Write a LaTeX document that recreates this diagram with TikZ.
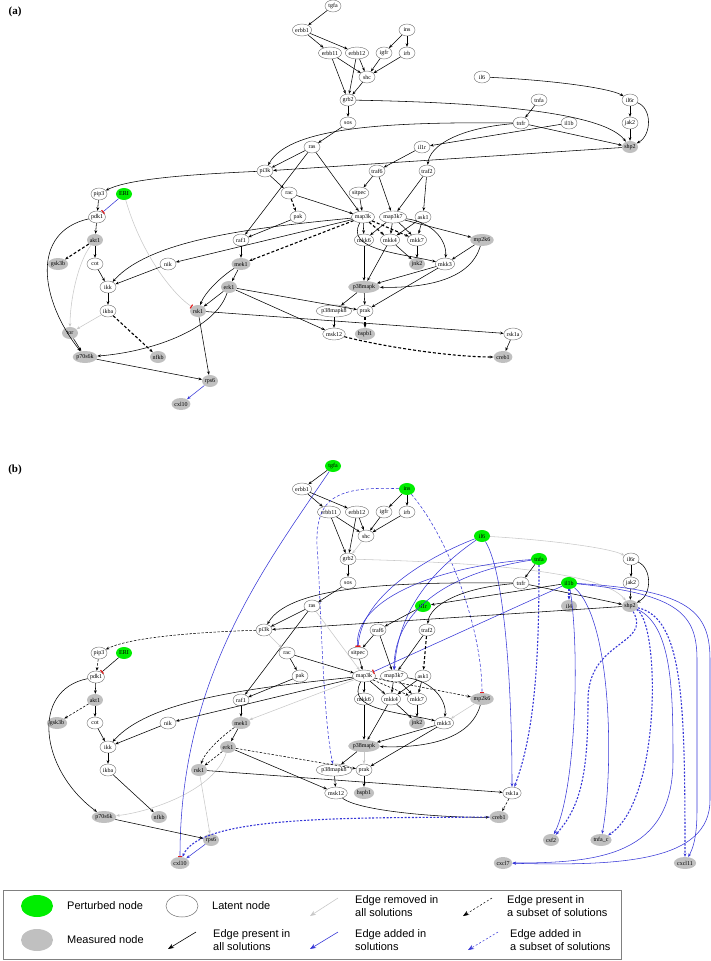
\documentclass[tikz,border=0pt]{standalone}
\usepackage{fontspec}
\setmainfont{Liberation Serif}
\newfontfamily\legfam{Liberation Sans}
\usetikzlibrary{shapes.geometric,arrows.meta}
\definecolor{pert}{RGB}{0,238,0}
\definecolor{meas}{RGB}{192,192,192}
\definecolor{latb}{RGB}{110,110,110}
\definecolor{remg}{RGB}{200,200,200}
\definecolor{addb}{RGB}{55,55,215}
\definecolor{teer}{RGB}{225,30,30}
\newcommand{\ndfont}{\fontsize{6}{6.5}\selectfont}
\tikzset{
 nd/.style={ellipse, inner sep=0pt, minimum height=12pt, minimum width=16pt, font=\ndfont},
 lat/.style={nd, draw=latb, line width=0.4pt, fill=white},
 mea/.style={nd, fill=meas},
 per/.style={nd, fill=pert},
 ed/.style={draw=black, line width=0.55pt, -{Stealth[length=3.6pt,width=2.8pt]}},
 edg/.style={ed, draw=remg},
 edd/.style={ed, line width=1.1pt, dash pattern=on 3pt off 2pt},
 eds/.style={ed, dash pattern=on 2.5pt off 1.5pt},
 edb/.style={ed, draw=addb},
 edbd/.style={edb, dash pattern=on 3pt off 2pt},
 edbt/.style={edb, line width=1.1pt, dash pattern=on 2pt off 1.6pt},
 tee/.style={-{Bar[width=4.5pt,line width=1.2pt,color=teer]}},
 legtxt/.style={anchor=west, align=left, inner sep=0pt, font=\legfam\fontsize{11}{13}\selectfont},
 legarr/.style={line width=0.6pt, -{Stealth[length=6pt,width=4.5pt]}},
 ttl/.style={font=\bfseries\fontsize{11}{12}\selectfont, inner sep=0pt}
}
\begin{document}
\begin{tikzpicture}[x=1pt,y=-1pt]
\useasboundingbox (0,0) rectangle (711,961);
\node[ttl] (ta) at (15,12) {(a)};
\node[ttl] (tb) at (15,470) {(b)};
% ================= PANEL A nodes
\node[lat] (a-tgfa) at (333,6) {tgfa};
\node[lat] (a-erbb1) at (302,30) {erbb1};
\node[lat] (a-ins) at (407,30) {ins};
\node[lat] (a-erbb11) at (330,53) {erbb11};
\node[lat] (a-erbb12) at (357,53) {erbb12};
\node[lat] (a-igfr) at (384,53) {igfr};
\node[lat] (a-irb) at (407,53) {irb};
\node[lat] (a-shc) at (367,77) {shc};
\node[lat] (a-il6) at (482,77) {il6};
\node[lat] (a-grb2) at (348,100) {grb2};
\node[lat] (a-tnfa) at (539,100) {tnfa};
\node[lat] (a-il6r) at (630,100) {il6r};
\node[lat] (a-sos) at (348,123) {sos};
\node[lat] (a-tnfr) at (521,123) {tnfr};
\node[lat] (a-il1b) at (569,123) {il1b};
\node[lat] (a-jak2) at (630,123) {jak2};
\node[lat] (a-ras) at (312,147) {ras};
\node[lat] (a-il1r) at (422,147) {il1r};
\node[mea] (a-shp2) at (630,147) {shp2};
\node[lat] (a-pi3k) at (265,171) {pi3k};
\node[lat] (a-traf6) at (377,171) {traf6};
\node[lat] (a-traf2) at (427,171) {traf2};
\node[lat] (a-pip3) at (99,194) {pip3};
\node[per] (a-ERI) at (124,194) {ERI};
\node[lat] (a-rac) at (289,193) {rac};
\node[lat] (a-sitpec) at (359,193) {sitpec};
\node[lat] (a-pdk1) at (97,217) {pdk1};
\node[lat] (a-pak) at (298,217) {pak};
\node[lat] (a-map3k) at (363,217) {map3k};
\node[lat] (a-map3k7) at (393,217) {map3k7};
\node[lat] (a-ask1) at (423,217) {ask1};
\node[mea] (a-akt1) at (95,240) {akt1};
\node[lat] (a-raf1) at (241,240) {raf1};
\node[lat] (a-mkk6) at (364,240) {mkk6};
\node[lat] (a-mkk4) at (390,240) {mkk4};
\node[lat] (a-mkk7) at (417,240) {mkk7};
\node[mea] (a-mp2k6) at (482,240) {mp2k6};
\node[mea] (a-gsk3b) at (58,264) {gsk3b};
\node[lat] (a-cot) at (95,264) {cot};
\node[lat] (a-nik) at (168,264) {nik};
\node[mea] (a-mek1) at (241,264) {mek1};
\node[mea] (a-jnk2) at (417,264) {jnk2};
\node[lat] (a-mkk3) at (445,264) {mkk3};
\node[lat] (a-ikk) at (108,287) {ikk};
\node[mea] (a-erk1) at (229,287) {erk1};
\node[mea] (a-p38mapk) at (364,287) {p38mapk};
\node[lat] (a-ikba) at (108,311) {ikba};
\node[mea] (a-rsk1) at (198,311) {rsk1};
\node[lat] (a-p38mapk8) at (334,311) {p38mapk8};
\node[lat] (a-prak) at (365,311) {prak};
\node[mea] (a-tor) at (70,333) {tor};
\node[lat] (a-msk12) at (334,334) {msk12};
\node[mea] (a-hspb1) at (365,334) {hspb1};
\node[lat] (a-rsk1a) at (513,334) {rsk1a};
\node[mea] (a-p70s6k) at (85,357) {p70s6k};
\node[mea] (a-nfkb) at (158,357) {nfkb};
\node[mea] (a-creb1) at (503,357) {creb1};
\node[mea] (a-rps6) at (210,381) {rps6};
\node[mea] (a-cxl10) at (181,404) {cxl10};
% ================= PANEL A edges
\draw[ed] (a-tgfa) -- (a-erbb1);
\draw[ed] (a-erbb1) -- (a-erbb11);
\draw[ed] (a-erbb1) -- (a-erbb12);
\draw[ed] (a-ins) -- (a-igfr);
\draw[ed] (a-ins) -- (a-irb);
\draw[ed] (a-erbb11) -- (a-shc);
\draw[ed] (a-erbb12) -- (a-shc);
\draw[ed] (a-igfr) -- (a-shc);
\draw[ed] (a-irb) -- (a-shc);
\draw[ed] (a-erbb11) -- (a-grb2);
\draw[ed] (a-erbb12) -- (a-grb2);
\draw[ed] (a-shc) -- (a-grb2);
\draw[ed] (a-grb2) -- (a-sos);
\draw[ed] (a-grb2) .. controls (450,102) and (600,108) .. (a-shp2);
\draw[ed] (a-sos) -- (a-ras);
\draw[ed] (a-il6) .. controls (550,80) and (610,88) .. (a-il6r);
\draw[ed] (a-tnfa) -- (a-tnfr);
\draw[ed] (a-il6r) -- (a-jak2);
\draw[ed] (a-il6r) .. controls (652,108) and (652,135) .. (a-shp2);
\draw[ed] (a-jak2) -- (a-shp2);
\draw[ed] (a-tnfr) -- (a-shp2);
\draw[ed] (a-il1b) -- (a-il1r);
\draw[ed] (a-tnfr) .. controls (460,128) and (430,145) .. (a-traf2);
\draw[ed] (a-tnfr) .. controls (400,122) and (290,125) .. (a-pi3k);
\draw[ed] (a-shp2) -- (a-pi3k);
\draw[ed] (a-ras) -- (a-pi3k);
\draw[ed] (a-pi3k) .. controls (200,174) and (130,178) .. (a-pip3);
\draw[ed] (a-pi3k) -- (a-rac);
\draw[ed] (a-ras) -- (a-raf1);
\draw[ed] (a-ras) -- (a-map3k);
\draw[edd] (a-rac) -- (a-pak);
\draw[ed] (a-rac) -- (a-map3k);
\draw[ed] (a-pak) -- (a-raf1);
\draw[ed] (a-il1r) -- (a-traf6);
\draw[ed] (a-traf6) -- (a-sitpec);
\draw[ed] (a-traf6) -- (a-map3k7);
\draw[ed] (a-traf2) -- (a-map3k7);
\draw[ed] (a-traf2) -- (a-ask1);
\draw[ed] (a-sitpec) -- (a-map3k);
\draw[ed] (a-raf1) -- (a-mek1);
\draw[edd] (a-map3k) -- (a-mek1);
\draw[ed] (a-map3k) -- (a-nik);
\draw[ed] (a-map3k) .. controls (250,228) and (150,240) .. (a-ikk);
\draw[ed] (a-map3k) -- (a-mkk6);
\draw[edd] (a-map3k) -- (a-mkk4);
\draw[edd] (a-map3k) -- (a-mkk7);
\draw[ed] (a-map3k) .. controls (345,250) and (400,253) .. (a-mkk3);
\draw[ed] (a-map3k7) -- (a-mkk6);
\draw[ed] (a-map3k7) -- (a-mkk4);
\draw[ed] (a-map3k7) -- (a-mkk7);
\draw[ed] (a-map3k7) .. controls (432,222) and (447,240) .. (a-mkk3);
\draw[ed] (a-map3k7) -- (a-mp2k6);
\draw[ed] (a-ask1) -- (a-mkk4);
\draw[ed] (a-ask1) -- (a-mkk7);
\draw[ed] (a-mkk4) -- (a-jnk2);
\draw[ed] (a-mkk7) -- (a-jnk2);
\draw[ed] (a-mkk6) -- (a-p38mapk);
\draw[ed] (a-mkk4) -- (a-p38mapk);
\draw[ed] (a-mkk3) -- (a-p38mapk);
\draw[ed] (a-mp2k6) -- (a-mkk3);
\draw[ed] (a-mp2k6) .. controls (470,282) and (420,288) .. (a-p38mapk);
\draw[ed] (a-mkk3) -- (a-prak);
\draw[ed] (a-p38mapk) -- (a-p38mapk8);
\draw[ed] (a-p38mapk) -- (a-prak);
\draw[edd] (a-prak) -- (a-hspb1);
\draw[ed] (a-p38mapk8) -- (a-msk12);
\draw[ed] (a-erk1) -- (a-prak);
\draw[ed] (a-erk1) -- (a-msk12);
\draw[ed] (a-mek1) -- (a-erk1);
\draw[ed] (a-mek1) .. controls (222,276) and (205,292) .. (a-rsk1);
\draw[ed] (a-erk1) -- (a-rsk1);
\draw[edd] (a-msk12) .. controls (380,346) and (450,357) .. (a-creb1);
\draw[ed] (a-rsk1a) -- (a-creb1);
\draw[ed] (a-rsk1) -- (a-rsk1a);
\draw[ed] (a-rsk1) -- (a-rps6);
\draw[ed] (a-p70s6k) -- (a-rps6);
\draw[edb] (a-rps6) -- (a-cxl10);
\draw[edb,tee] (a-ERI) -- (a-pdk1);
\draw[edg,tee] (a-ERI) .. controls (140,250) and (170,292) .. (a-rsk1);
\draw[ed] (a-pip3) -- (a-pdk1);
\draw[ed] (a-pdk1) -- (a-akt1);
\draw[ed] (a-pdk1) .. controls (30,232) and (40,300) .. (a-p70s6k);
\draw[edd] (a-akt1) -- (a-gsk3b);
\draw[ed] (a-akt1) -- (a-cot);
\draw[edg] (a-akt1) .. controls (78,262) and (70,300) .. (a-tor);
\draw[edg] (a-ikba) -- (a-tor);
\draw[ed] (a-tor) -- (a-p70s6k);
\draw[edd] (a-ikba) -- (a-nfkb);
\draw[ed] (a-ikk) -- (a-ikba);
\draw[ed] (a-cot) -- (a-ikk);
\draw[ed] (a-nik) -- (a-ikk);
\draw[ed] (a-erk1) .. controls (215,330) and (150,352) .. (a-p70s6k);
% ================= PANEL B nodes
\node[per] (b-tgfa) at (333,466) {tgfa};
\node[lat] (b-erbb1) at (302,489) {erbb1};
\node[per] (b-ins) at (407,489) {ins};
\node[lat] (b-erbb11) at (329,512) {erbb11};
\node[lat] (b-erbb12) at (357,512) {erbb12};
\node[lat] (b-igfr) at (384,512) {igfr};
\node[lat] (b-irb) at (407,512) {irb};
\node[lat] (b-shc) at (366,536) {shc};
\node[per] (b-il6) at (482,536) {il6};
\node[lat] (b-grb2) at (348,559) {grb2};
\node[per] (b-tnfa) at (539,559) {tnfa};
\node[lat] (b-il6r) at (631,559) {il6r};
\node[lat] (b-sos) at (348,583) {sos};
\node[lat] (b-tnfr) at (521,583) {tnfr};
\node[per] (b-il1b) at (569,583) {il1b};
\node[lat] (b-jak2) at (631,583) {jak2};
\node[lat] (b-ras) at (312,606) {ras};
\node[per] (b-il1r) at (423,606) {il1r};
\node[mea] (b-il4) at (569,606) {il4};
\node[mea] (b-shp2) at (630,606) {shp2};
\node[lat] (b-pi3k) at (264,630) {pi3k};
\node[lat] (b-traf6) at (378,630) {traf6};
\node[lat] (b-traf2) at (427,630) {traf2};
\node[lat] (b-pip3) at (99,653) {pip3};
\node[per] (b-ERI) at (124,653) {ERI};
\node[lat] (b-rac) at (287,653) {rac};
\node[lat] (b-sitpec) at (358,653) {sitpec};
\node[lat] (b-pdk1) at (96,677) {pdk1};
\node[lat] (b-pak) at (300,676) {pak};
\node[lat] (b-map3k) at (364,676) {map3k};
\node[lat] (b-map3k7) at (394,676) {map3k7};
\node[lat] (b-ask1) at (423,676) {ask1};
\node[mea] (b-akt1) at (95,700) {akt1};
\node[lat] (b-raf1) at (241,700) {raf1};
\node[lat] (b-mkk6) at (364,699) {mkk6};
\node[lat] (b-mkk4) at (391,699) {mkk4};
\node[lat] (b-mkk7) at (417,699) {mkk7};
\node[mea] (b-mp2k6) at (482,699) {mp2k6};
\node[mea] (b-gsk3b) at (57,723) {gsk3b};
\node[lat] (b-cot) at (95,723) {cot};
\node[lat] (b-nik) at (168,723) {nik};
\node[mea] (b-mek1) at (241,723) {mek1};
\node[mea] (b-jnk2) at (417,723) {jnk2};
\node[lat] (b-mkk3) at (444,723) {mkk3};
\node[lat] (b-ikk) at (108,747) {ikk};
\node[mea] (b-erk1) at (228,747) {erk1};
\node[mea] (b-p38mapk) at (364,746) {p38mapk};
\node[lat] (b-ikba) at (108,770) {ikba};
\node[mea] (b-rsk1) at (199,770) {rsk1};
\node[lat] (b-p38mapk8) at (334,770) {p38mapk8};
\node[lat] (b-prak) at (364,770) {prak};
\node[lat] (b-msk12) at (336,793) {msk12};
\node[mea] (b-hspb1) at (364,793) {hspb1};
\node[lat] (b-rsk1a) at (512,793) {rsk1a};
\node[mea] (b-p70s6k) at (104,817) {p70s6k};
\node[mea] (b-nfkb) at (159,817) {nfkb};
\node[mea] (b-creb1) at (499,817) {creb1};
\node[mea] (b-rps6) at (211,840) {rps6};
\node[mea] (b-csf2) at (551,840) {csf2};
\node[mea] (b-tnfa_c) at (601,840) {tnfa\_c};
\node[mea] (b-cxl10) at (180,863) {cxl10};
\node[mea] (b-cxcl7) at (503,863) {cxcl7};
\node[mea] (b-cxcl11) at (685,863) {cxcl11};
% ================= PANEL B edges
\draw[ed] (b-tgfa) -- (b-erbb1);
\draw[edb,tee] (b-tgfa) .. controls (262,570) and (180,680) .. (b-cxl10);
\draw[ed] (b-erbb1) -- (b-erbb11);
\draw[ed] (b-erbb1) -- (b-erbb12);
\draw[ed] (b-ins) -- (b-igfr);
\draw[ed] (b-ins) -- (b-irb);
\draw[edbd] (b-ins) .. controls (330,486) and (312,500) .. (318,560) .. controls (322,640) and (324,720) .. (b-p38mapk8);
\draw[edbd,tee] (b-ins) .. controls (450,540) and (482,630) .. (b-mp2k6);
\draw[ed] (b-erbb11) -- (b-shc);
\draw[ed] (b-erbb12) -- (b-shc);
\draw[ed] (b-igfr) -- (b-shc);
\draw[ed] (b-irb) -- (b-shc);
\draw[edg] (b-shc) -- (b-grb2);
\draw[ed] (b-erbb11) -- (b-grb2);
\draw[ed] (b-erbb12) -- (b-grb2);
\draw[ed] (b-grb2) -- (b-sos);
\draw[edg] (b-grb2) .. controls (450,562) and (600,568) .. (b-shp2);
\draw[edg] (b-il6) .. controls (550,540) and (610,548) .. (b-il6r);
\draw[edb,tee] (b-il6) .. controls (420,560) and (360,600) .. (b-sitpec);
\draw[edb] (b-il6) .. controls (430,572) and (398,612) .. (b-map3k7);
\draw[edb] (b-il6) .. controls (506,575) and (512,700) .. (b-rsk1a);
\draw[ed] (b-tnfa) -- (b-tnfr);
\draw[edb,tee] (b-tnfa) .. controls (440,566) and (354,598) .. (b-sitpec);
\draw[edb] (b-tnfa) .. controls (452,572) and (394,608) .. (b-map3k7);
\draw[edbt] (b-tnfa) .. controls (539,650) and (536,730) .. (b-rsk1a);
\draw[ed] (b-il6r) -- (b-jak2);
\draw[ed] (b-il6r) .. controls (652,568) and (652,595) .. (b-shp2);
\draw[ed] (b-jak2) -- (b-shp2);
\draw[ed] (b-tnfr) -- (b-shp2);
\draw[ed] (b-tnfr) .. controls (460,588) and (430,605) .. (b-traf2);
\draw[ed] (b-tnfr) .. controls (400,582) and (290,585) .. (b-pi3k);
\draw[ed] (b-il1b) -- (b-il1r);
\draw[edbt] (b-il1b) -- (b-il4);
\draw[edb,tee] (b-il1b) -- (b-map3k);
\draw[edb] (b-il1b) .. controls (580,650) and (576,790) .. (b-csf2);
\draw[edb] (b-il1b) .. controls (612,620) and (614,770) .. (b-tnfa_c);
\draw[edb] (b-il1b) .. controls (690,590) and (710,612) .. (710,660) -- (710,800) .. controls (710,862) and (620,866) .. (b-cxcl7);
\draw[edb] (b-il1b) .. controls (680,594) and (697,615) .. (697,660) -- (697,810) .. controls (697,840) and (692,850) .. (b-cxcl11);
\draw[edbt] (b-shp2) .. controls (652,645) and (588,640) .. (588,700) .. controls (588,770) and (582,805) .. (b-csf2);
\draw[edbt] (b-shp2) .. controls (660,622) and (662,800) .. (b-tnfa_c);
\draw[edbt] (b-shp2) .. controls (683,618) and (685,700) .. (b-cxcl11);
\draw[edb] (b-shp2) .. controls (672,625) and (673,690) .. (673,760) .. controls (673,855) and (600,863) .. (b-cxcl7);
\draw[ed] (b-shp2) -- (b-pi3k);
\draw[ed] (b-sos) -- (b-ras);
\draw[ed] (b-ras) -- (b-pi3k);
\draw[ed] (b-ras) -- (b-raf1);
\draw[edg] (b-ras) -- (b-map3k);
\draw[eds] (b-pi3k) .. controls (200,632) and (130,637) .. (b-pip3);
\draw[edg] (b-pi3k) -- (b-rac);
\draw[ed] (b-rac) -- (b-pak);
\draw[ed] (b-rac) -- (b-map3k);
\draw[ed] (b-pak) -- (b-raf1);
\draw[ed] (b-il1r) -- (b-traf6);
\draw[ed] (b-traf6) -- (b-sitpec);
\draw[ed] (b-traf6) -- (b-map3k7);
\draw[ed] (b-traf2) -- (b-map3k7);
\draw[edd] (b-traf2) -- (b-ask1);
\draw[ed] (b-sitpec) -- (b-map3k);
\draw[ed] (b-raf1) -- (b-mek1);
\draw[edg] (b-map3k) -- (b-mek1);
\draw[ed] (b-map3k) -- (b-nik);
\draw[ed] (b-map3k) .. controls (250,688) and (150,700) .. (b-ikk);
\draw[ed] (b-map3k) -- (b-mkk6);
\draw[ed] (b-map3k) -- (b-mkk4);
\draw[eds] (b-map3k) -- (b-mkk7);
\draw[eds] (b-map3k) -- (b-mp2k6);
\draw[ed] (b-map3k) .. controls (345,710) and (400,712) .. (b-mkk3);
\draw[ed] (b-map3k7) -- (b-mkk4);
\draw[ed] (b-map3k7) -- (b-mkk7);
\draw[ed] (b-map3k7) .. controls (432,681) and (447,700) .. (b-mkk3);
\draw[ed] (b-ask1) -- (b-mkk4);
\draw[ed] (b-ask1) -- (b-mkk7);
\draw[ed] (b-mkk4) -- (b-jnk2);
\draw[ed] (b-mkk7) -- (b-jnk2);
\draw[ed] (b-mkk6) -- (b-p38mapk);
\draw[ed] (b-mkk4) -- (b-p38mapk);
\draw[ed] (b-mkk3) -- (b-p38mapk);
\draw[edg] (b-mp2k6) -- (b-mkk3);
\draw[ed] (b-mp2k6) .. controls (470,742) and (420,748) .. (b-p38mapk);
\draw[ed] (b-mkk3) -- (b-prak);
\draw[ed] (b-p38mapk) -- (b-p38mapk8);
\draw[edg] (b-p38mapk) -- (b-prak);
\draw[ed] (b-prak) -- (b-hspb1);
\draw[ed] (b-p38mapk8) -- (b-msk12);
\draw[ed] (b-mek1) -- (b-erk1);
\draw[eds] (b-mek1) .. controls (222,736) and (205,752) .. (b-rsk1);
\draw[eds] (b-erk1) -- (b-rsk1);
\draw[eds] (b-erk1) -- (b-prak);
\draw[ed] (b-erk1) -- (b-msk12);
\draw[edg] (b-erk1) .. controls (215,790) and (150,812) .. (b-p70s6k);
\draw[ed] (b-rsk1) -- (b-rsk1a);
\draw[edg] (b-rsk1) -- (b-rps6);
\draw[ed] (b-msk12) .. controls (360,812) and (450,818) .. (b-creb1);
\draw[eds] (b-rsk1a) -- (b-creb1);
\draw[edbt] (b-creb1) .. controls (350,818) and (200,815) .. (b-cxl10);
\draw[ed] (b-p70s6k) -- (b-rps6);
\draw[edb] (b-rps6) -- (b-cxl10);
\draw[ed,tee] (b-ERI) -- (b-pdk1);
\draw[eds] (b-pip3) -- (b-pdk1);
\draw[ed] (b-pdk1) -- (b-akt1);
\draw[ed] (b-pdk1) .. controls (30,690) and (40,770) .. (b-p70s6k);
\draw[eds] (b-akt1) -- (b-gsk3b);
\draw[ed] (b-akt1) -- (b-cot);
\draw[ed] (b-cot) -- (b-ikk);
\draw[ed] (b-nik) -- (b-ikk);
\draw[ed] (b-ikk) -- (b-ikba);
\draw[ed] (b-ikba) -- (b-nfkb);
% ================= LEGEND
\node[draw=gray, line width=0.6pt, minimum width=618pt, minimum height=69pt, inner sep=0pt] (leg) at (312,924.5) {};
\node[ellipse, fill=pert, minimum width=32pt, minimum height=22pt] (lg-p) at (37,906) {};
\node[legtxt] (lt-p) at (67,906) {Perturbed node};
\node[ellipse, fill=meas, minimum width=32pt, minimum height=22pt] (lg-m) at (37,940) {};
\node[legtxt] (lt-m) at (67,940) {Measured node};
\node[ellipse, draw=latb, line width=0.5pt, minimum width=32pt, minimum height=22pt] (lg-l) at (182,906) {};
\node[legtxt] (lt-l) at (212,906) {Latent node};
\coordinate (k1s) at (196,932); \coordinate (k1e) at (168,949);
\draw[legarr, draw=black] (k1s) -- (k1e);
\node[legtxt] (lt-k) at (213,940) {Edge present in\\all solutions};
\coordinate (k2s) at (338,898); \coordinate (k2e) at (310,916);
\draw[legarr, draw=remg] (k2s) -- (k2e);
\node[legtxt] (lt-g) at (355,906) {Edge removed in\\all solutions};
\coordinate (k3s) at (338,932); \coordinate (k3e) at (310,949);
\draw[legarr, draw=addb] (k3s) -- (k3e);
\node[legtxt] (lt-b) at (355,940) {Edge added in\\solutions};
\coordinate (k4s) at (492,898); \coordinate (k4e) at (463,916);
\draw[legarr, draw=black, line width=0.5pt, dash pattern=on 2pt off 2pt] (k4s) -- (k4e);
\node[legtxt] (lt-d) at (507,906) {Edge present in\\a subset of solutions};
\coordinate (k5s) at (498,932); \coordinate (k5e) at (468,950);
\draw[legarr, draw=addb, line width=0.5pt, dash pattern=on 2pt off 2pt] (k5s) -- (k5e);
\node[legtxt] (lt-bd) at (510,940) {Edge added in\\a subset of solutions};
\end{tikzpicture}
\end{document}
